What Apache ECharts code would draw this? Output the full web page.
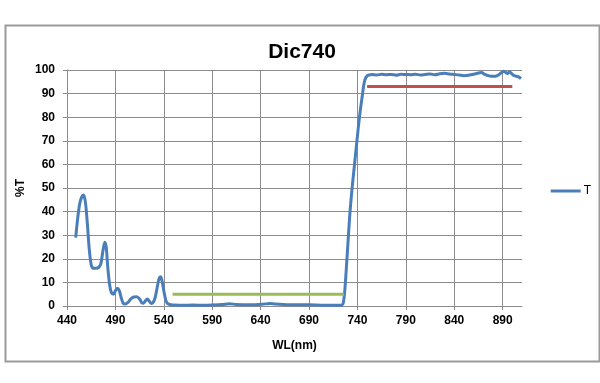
<!DOCTYPE html>
<html>
<head>
<meta charset="utf-8">
<script src="https://cdn.jsdelivr.net/npm/echarts@6/dist/echarts.min.js"></script>
<style>
html,body{margin:0;padding:0;background:#fff;}
#c{width:600px;height:383px;}
</style>
</head>
<body>
<div id="c"></div>
<script>
const title = 'Dic740';
const xName = 'WL(nm)';
const yName = '%T';
const seriesName = 'T';
const xTicks = [440, 490, 540, 590, 640, 690, 740, 790, 840, 890];
const wavelengths = [449,451,453,455,457,459,461,463,465,467,470,473,475,477,479,480.5,482,484,486,488,490,492,494,496,498,500,503,506,509,512,515,517,519,521,523,525,527,529,531,533,535,536.5,538,540,542,544,547,550,560,570,580,590,600,608,615,630,645,650,655,670,690,705,720,724,725.5,727,729.5,732,734.5,737,739,741,743,745,746.5,748,750,752,755,760,765,770,775,780,785,790,795,800,805,810,815,820,825,830,835,840,845,850,855,860,865,868,872,876,880,884,888,891,893,895,897,899,902,906,909];
const transmission = [29,37,43,46,47,44,35,24,17.5,16,16,16.5,18,23,27,25,17,9,5.5,5,6.5,7.5,6.5,3.5,1.2,0.8,1.5,3,3.8,3.9,3,1.5,1.2,2.2,3,2,1.1,1.5,3.5,7.5,11.5,12.4,11,6.5,2.5,1,0.5,0.4,0.3,0.4,0.3,0.4,0.6,1.0,0.6,0.5,0.9,1.1,0.8,0.5,0.5,0.3,0.3,0.4,1.5,6.8,22,38,50,60,68,76,83,89,93.5,96.2,97.5,97.9,98.1,97.9,98.2,98.0,98.1,97.8,98.2,98.1,98.0,98.2,97.9,98.1,98.3,98.0,98.4,98.6,98.3,98.1,97.9,97.6,97.8,98.2,98.7,98.9,98.0,97.5,97.3,97.5,98.6,99.5,99.0,98.5,99.3,98.6,97.6,97.2,96.3];
const blockBand = [[549, 5], [726, 5]];
const passBand = [[750, 93], [900, 93]];

const grid = '#8c8c8c';
const chart = echarts.init(document.getElementById('c'));
chart.setOption({
  animation: false,
  backgroundColor: '#fff',
  graphic: [{
    type: 'rect', left: 3, top: 23, shape: {width: 594, height: 336},
    style: {fill: 'none', stroke: '#9a9a9a', lineWidth: 2}, silent: true
  }],
  title: {
    text: title, left: 297, top: 37, textAlign: 'center',
    textStyle: {fontFamily: 'Liberation Sans', fontWeight: 'bold', fontSize: 21, color: '#000'}
  },
  legend: {
    data: [seriesName], right: 4, top: 180, itemWidth: 30, itemHeight: 3, itemGap: 2,
    icon: 'rect',
    textStyle: {fontFamily: 'Liberation Sans', fontSize: 12, color: '#000', padding: [0,0,0,-2]}
  },
  grid: {left: 67, right: 78, top: 70, bottom: 77},
  xAxis: {
    type: 'value', min: 440, max: 910,
    name: xName, nameLocation: 'middle', nameGap: 34,
    nameTextStyle: {fontFamily: 'Liberation Sans', fontWeight: 'bold', fontSize: 12, color: '#000'},
    axisLine: {show: true, lineStyle: {color: grid, width: 1}},
    axisTick: {show: true, length: 4, customValues: xTicks, lineStyle: {color: grid}},
    axisLabel: {customValues: xTicks, margin: 9, fontFamily: 'Liberation Sans', fontWeight: 'bold', fontSize: 12, color: '#000'},
    splitLine: {show: true, customValues: xTicks, lineStyle: {color: grid, width: 1}}
  },
  yAxis: {
    type: 'value', min: 0, max: 100, interval: 10,
    name: yName, nameLocation: 'middle', nameGap: 40, nameRotate: 90, nameMoveOverlap: false,
    nameTextStyle: {fontFamily: 'Liberation Sans', fontWeight: 'bold', fontSize: 12, color: '#000'},
    axisLine: {show: true, lineStyle: {color: grid, width: 1}},
    axisTick: {show: true, length: 4, lineStyle: {color: grid}},
    axisLabel: {margin: 12, fontFamily: 'Liberation Sans', fontWeight: 'bold', fontSize: 12, color: '#000'},
    splitLine: {show: true, lineStyle: {color: grid, width: 1}}
  },
  series: [
    {
      name: seriesName, type: 'line',
      data: wavelengths.map((w, i) => [w, transmission[i]]),
      showSymbol: false, smooth: 0.3,
      lineStyle: {color: '#4A7EBB', width: 3}, itemStyle: {color: '#4A7EBB'}, z: 3
    },
    {
      name: 'block', type: 'line', data: blockBand, showSymbol: false,
      lineStyle: {color: '#9BBB59', width: 3}, itemStyle: {color: '#9BBB59'}, z: 4
    },
    {
      name: 'pass', type: 'line', data: passBand, showSymbol: false,
      lineStyle: {color: '#C0504D', width: 3}, itemStyle: {color: '#C0504D'}, z: 4
    }
  ]
});
</script>
</body>
</html>
